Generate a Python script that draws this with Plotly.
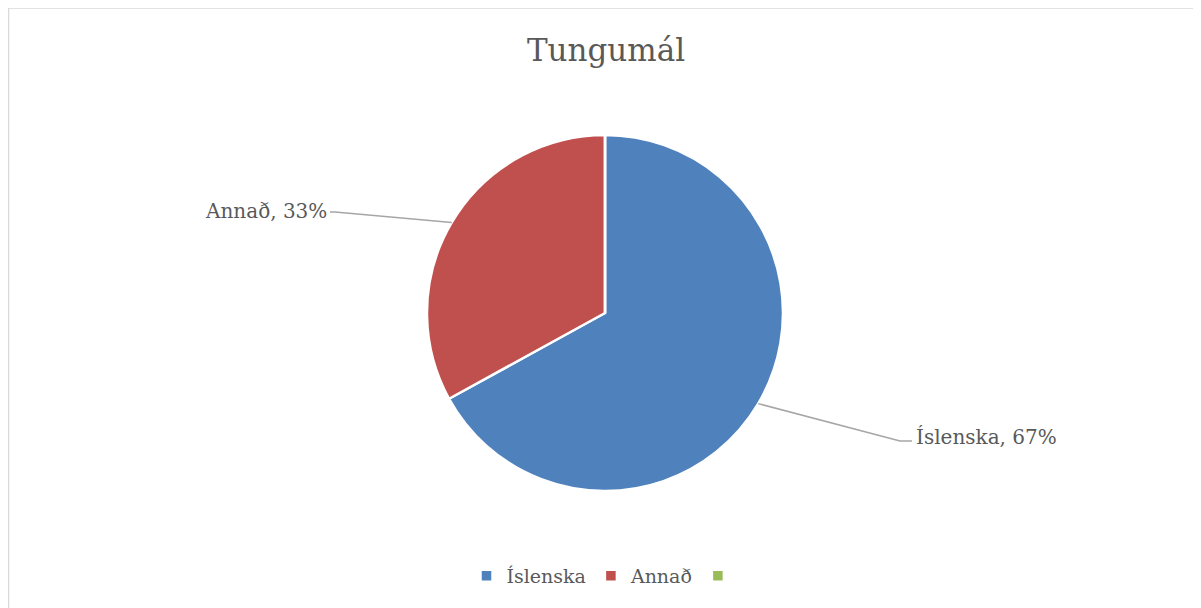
import math
import plotly.graph_objects as go

# Data
categories = ["Íslenska", "Annað", " "]
values = [67, 33, 0]
colors = ["#4F81BD", "#C0504D", "#9BBB59"]
title_text = "Tungumál"

OFF = 8  # page body margin
W, H = 1193, 600
CX, CY, R = 605, 313, 178  # pie centre / radius in page pixels
FONT = "DejaVu Serif"
TXT = "#595959"

def px(x):
    return (x - OFF) / W

def py(y):
    return 1 - (y - OFF) / H

fig = go.Figure()
fig.add_trace(go.Pie(
    labels=categories, values=values, sort=False, direction="clockwise",
    rotation=0, textinfo="none", hoverinfo="label+percent",
    marker=dict(colors=colors, line=dict(color="white", width=2.5)),
    domain=dict(x=[px(CX - R), px(CX + R)], y=[py(CY + R), py(CY - R)]),
    showlegend=True,
))

total = sum(values)
label_layout = {
    "Íslenska": dict(elbow=(900, 441), end=(912, 441), anchor="left"),
    "Annað": dict(elbow=(335, 212), end=(330, 212), anchor="right"),
}
shapes = []
annotations = []
cum = 0
for lab, v in zip(categories, values):
    if v == 0:
        continue
    mid = (cum + v / 2) / total * 2 * math.pi
    cum += v
    sx = CX + R * math.sin(mid)
    sy = CY - R * math.cos(mid)
    lay = label_layout[lab]
    ex, ey = lay["elbow"]
    fx, fy = lay["end"]
    shapes.append(dict(type="path", xref="paper", yref="paper",
                       path=f"M {px(sx)} {py(sy)} L {px(ex)} {py(ey)} L {px(fx)} {py(fy)}",
                       line=dict(color="#A6A6A6", width=1.5)))
    pct = round(v / total * 100)
    if lay["anchor"] == "left":
        annotations.append(dict(x=px(fx + 2), y=py(fy - 4), xref="paper", yref="paper",
                                text=f"{lab}, {pct}%", showarrow=False, xanchor="left",
                                yanchor="middle", font=dict(family=FONT, size=20, color=TXT)))
    else:
        annotations.append(dict(x=px(fx - 1), y=py(fy - 1), xref="paper", yref="paper",
                                text=f"{lab}, {pct}%", showarrow=False, xanchor="right",
                                yanchor="middle", font=dict(family=FONT, size=20, color=TXT)))

# chart border
shapes.append(dict(type="rect", xref="paper", yref="paper", x0=px(8.5), y0=py(700),
                   x1=px(1300), y1=py(8), line=dict(color="#D9D9D9", width=1.5)))

fig.update_layout(
    width=W, height=H, margin=dict(l=0, r=0, t=0, b=0),
    paper_bgcolor="white", plot_bgcolor="white",
    title=dict(text=title_text, x=px(606), xanchor="center", y=py(50), yanchor="middle",
               font=dict(family=FONT, size=31, color=TXT)),
    legend=dict(orientation="h", x=px(608), xanchor="center", y=py(576), yanchor="middle",
                font=dict(family=FONT, size=19, color=TXT), itemwidth=30,
                traceorder="normal"),
    shapes=shapes, annotations=annotations,
)

fig.write_html("out.html")
